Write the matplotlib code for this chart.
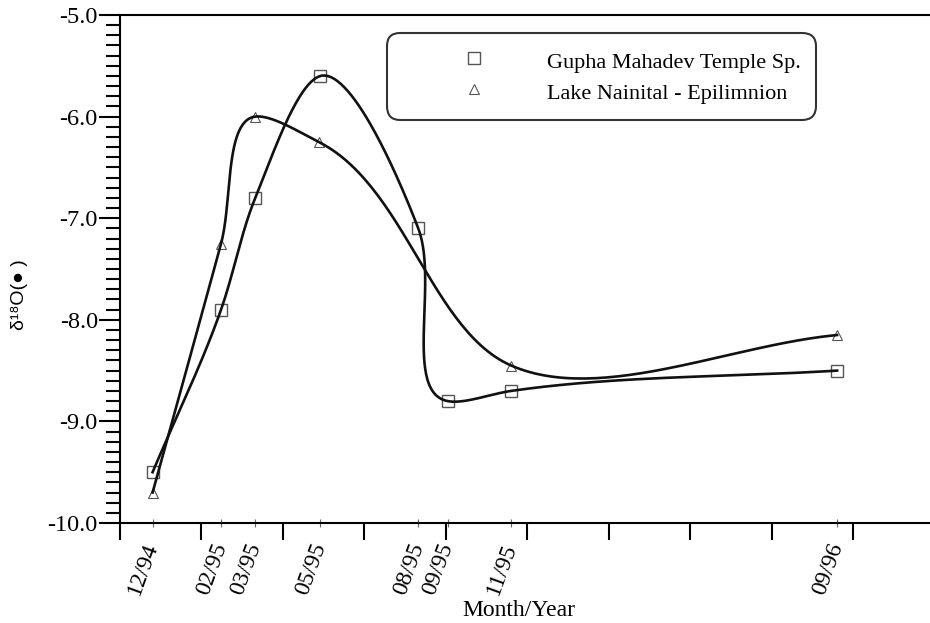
import numpy as np
import matplotlib
matplotlib.use('Agg')
import matplotlib.pyplot as plt
from matplotlib.ticker import FixedLocator, MultipleLocator
from matplotlib.lines import Line2D

# time in months counted from the 12/94 sampling
gupha_month = [0, 2.1, 3.15, 5.15, 8.15, 9.05, 11.0, 21.0]
gupha_d18o = [-9.5, -7.9, -6.8, -5.6, -7.1, -8.8, -8.7, -8.5]
lake_month = [0, 2.1, 3.15, 5.1, 11.0, 21.0]
lake_d18o = [-9.7, -7.25, -6.0, -6.25, -8.45, -8.15]

tick_month = [0, 2.1, 3.15, 5.15, 8.15, 9.05, 11.0, 21.0]
tick_label = ['12/94', '02/95', '03/95', '05/95', '08/95', '09/95', '11/95', '09/96']

XLIM = (-1, 23.85)
YLIM = (-10, -5)
AX_W, AX_H = 810, 508   # axes size in pixels


def bessel_curve(x, y, n=60):
    # chord length spline with bessel tangents, done in screen units
    sx = AX_W / (XLIM[1] - XLIM[0])
    sy = AX_H / (YLIM[1] - YLIM[0])
    P = np.column_stack([np.asarray(x, float) * sx, np.asarray(y, float) * sy])
    d = np.diff(P, axis=0)
    h = np.hypot(d[:, 0], d[:, 1])
    u = d / h[:, None]
    m = np.zeros_like(P)
    m[0] = u[0]
    m[-1] = u[-1]
    for i in range(1, len(P) - 1):
        m[i] = (h[i] * u[i - 1] + h[i - 1] * u[i]) / (h[i - 1] + h[i])
    s = np.linspace(0, 1, n)[:, None]
    h00 = 2 * s ** 3 - 3 * s ** 2 + 1
    h10 = s ** 3 - 2 * s ** 2 + s
    h01 = -2 * s ** 3 + 3 * s ** 2
    h11 = s ** 3 - s ** 2
    pts = []
    for i in range(len(P) - 1):
        pts.append(h00 * P[i] + h10 * m[i] * h[i] + h01 * P[i + 1] + h11 * m[i + 1] * h[i])
    pts = np.vstack(pts)
    return pts[:, 0] / sx, pts[:, 1] / sy


plt.rcParams['font.family'] = ['Liberation Serif', 'DejaVu Serif']

fig = plt.figure(figsize=(9.3, 6.23), dpi=100)
ax = fig.add_axes([120 / 930, 100 / 623, AX_W / 930, AX_H / 623])

gx, gy = bessel_curve(gupha_month, gupha_d18o)
lx, ly = bessel_curve(lake_month, lake_d18o)
ax.plot(gx, gy, color='#111111', lw=1.9, zorder=3)
ax.plot(lx, ly, color='#111111', lw=1.9, zorder=3)
ax.plot(gupha_month, gupha_d18o, 's', ms=8.5, mfc='none', mec='#555555', mew=1.0, zorder=2)
ax.plot(lake_month, lake_d18o, '^', ms=7, mfc='none', mec='#555555', mew=0.8, zorder=2)

ax.set_xlim(*XLIM)
ax.set_ylim(*YLIM)

for s in ['left', 'bottom', 'top']:
    ax.spines[s].set_linewidth(1.5)
ax.spines['right'].set_visible(False)

ax.yaxis.set_major_locator(MultipleLocator(1))
ax.yaxis.set_minor_locator(MultipleLocator(0.1))
ax.set_yticklabels(['%.1f' % v for v in ax.get_yticks()])
ax.tick_params(axis='y', which='major', direction='out', length=15, width=1.5, labelsize=17.5, pad=1)
ax.tick_params(axis='y', which='minor', direction='out', length=10, width=1.5)

ax.xaxis.remove_overlapping_locs = False
ax.xaxis.set_major_locator(FixedLocator(np.arange(-1, 23, 2.5)))
ax.xaxis.set_minor_locator(FixedLocator(tick_month))
ax.xaxis.set_major_formatter(plt.NullFormatter())
ax.xaxis.set_minor_formatter(plt.FixedFormatter(tick_label))
ax.tick_params(axis='x', which='major', direction='out', length=12, width=1.5)
ax.tick_params(axis='x', which='minor', direction='inout', length=6, width=0.8, color='#666666',
               labelsize=17, pad=12)
for lab in ax.xaxis.get_minorticklabels():
    lab.set_rotation(70)
    lab.set_rotation_mode('anchor')
    lab.set_ha('right')
    lab.set_va('center')

ax.set_xlabel('Month/Year', fontsize=17)
ax.xaxis.set_label_coords((519 - 120) / AX_W, -(610 - 523) / AX_H)
ax.xaxis.label.set_va('center')

ax.set_ylabel('δ¹⁸O(● )', fontsize=14, family=['Liberation Sans', 'DejaVu Sans'])
ax.yaxis.set_label_coords((19 - 120) / AX_W, (523 - 295) / AX_H)
ax.yaxis.label.set_va('center')

handles = [
    Line2D([], [], ls='none', marker='s', ms=8.5, mfc='none', mec='#555555', mew=1.0),
    Line2D([], [], ls='none', marker='^', ms=7, mfc='none', mec='#555555', mew=0.8),
]
leg = ax.legend(handles, ['Gupha Mahadev Temple Sp.', 'Lake Nainital - Epilimnion'],
                loc='upper left', bbox_to_anchor=((387 - 120) / AX_W, (523 - 33) / AX_H),
                fontsize=16.0, frameon=True, fancybox=True, borderpad=0.67,
                handlelength=6.5, handleheight=1.4, handletextpad=0.02, labelspacing=0.25,
                borderaxespad=0)
frame = leg.get_frame()
frame.set_edgecolor('black')
frame.set_linewidth(1.5)
frame.set_boxstyle('round', pad=0, rounding_size=0.6)

fig.savefig('out.png', dpi=100)
